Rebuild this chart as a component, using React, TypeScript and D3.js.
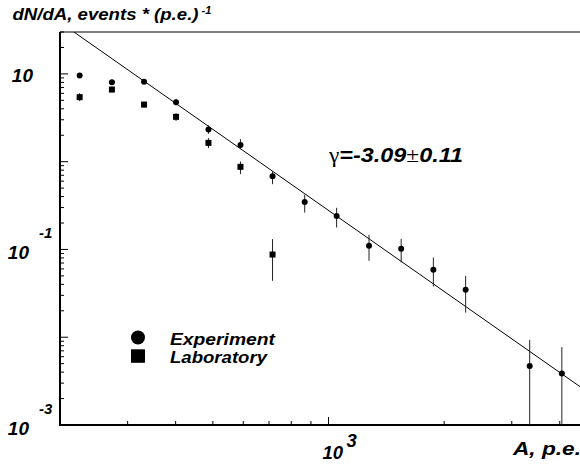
import React from 'react';
import * as d3 from 'd3';

// Bin centres (A, p.e.)
const binA = [225, 273, 331, 401, 487, 590, 715, 867, 1050, 1275, 1546, 1875, 2275, 3340, 4050];
// Experiment
const expY = [9.56, 8.05, 8.11, 4.76, 2.32, 1.553, 0.684, 0.346, 0.24, 0.11, 0.1016, 0.0586, 0.0347, 0.00469, 0.00386];
const expHi = [10.1, 8.5, 8.55, 5.19, 2.59, 1.8, 0.771, 0.419, 0.298, 0.1466, 0.132, 0.0809, 0.05, 0.00934, 0.00771];
const expLo = [9.07, 7.6, 7.7, 4.38, 2.075, 1.388, 0.554, 0.263, 0.1775, 0.0741, 0.071, 0.0378, 0.0191, 0.0001, 0.0001];
// Laboratory
const labA = [225, 273, 331, 401, 487, 590, 715];
const labY = [5.43, 6.63, 4.47, 3.24, 1.637, 0.873, 0.0875];
const labHi = [6.03, 7.17, 4.84, 3.57, 1.853, 1.003, 0.131];
const labLo = [4.89, 6.13, 4.13, 2.91, 1.425, 0.72, 0.0439];
// Power-law fit
const fitA = [217.4, 5000];
const fitY = [30, 0.002];

const xTicks = [200, 300, 400, 500, 600, 700, 800, 900, 1000, 2000, 3000, 4000, 5000];
const xMajor = [1000];
const yDecades = [-3, -2, -1, 0, 1];
const yLabels = [
  { v: 10, exp: '' },
  { v: 0.1, exp: '-1' },
  { v: 0.001, exp: '-3' },
];

const W = 580;
const H = 468;
const L = 60;
const R = 597;
const T = 32;
const B = 425;

const FONT = '"Liberation Sans", Arial, Helvetica, sans-serif';

export default function App() {
  const x = d3.scaleLog().domain([200, 5000]).range([L, R]);
  const y = d3.scaleLog().domain([0.001, 30]).range([B, T]);

  const yTicks: { v: number; major: boolean }[] = [];
  yDecades.forEach((d) => {
    for (let m = 1; m <= 9; m++) {
      const v = m * Math.pow(10, d);
      if (v >= 0.001 && v <= 30) yTicks.push({ v, major: m === 1 });
    }
  });
  yTicks.push({ v: 20, major: false });

  const line = d3
    .line<number>()
    .x((_, i) => x(fitA[i]))
    .y((d) => y(d));

  const txt = { fontFamily: FONT, fontWeight: 'bold' as const, fontStyle: 'italic' as const };

  return (
    <svg
      width={W}
      height={H}
      style={{ position: 'absolute', left: 0, top: 0, background: '#fff' }}
      xmlns="http://www.w3.org/2000/svg"
    >
      <defs>
        <clipPath id="plot">
          <rect x={L} y={T} width={R - L} height={B - T} />
        </clipPath>
      </defs>
      <rect x={0} y={0} width={W} height={H} fill="#fff" />

      {/* frame */}
      <line x1={L} y1={T} x2={R} y2={T} stroke="#000" strokeWidth={1.2} />
      <line x1={L} y1={T} x2={L} y2={B + 1} stroke="#000" strokeWidth={2} />
      <line x1={L - 1} y1={B} x2={R} y2={B} stroke="#000" strokeWidth={2} />

      {/* y ticks */}
      {yTicks.map((t, i) => (
        <line
          key={'yt' + i}
          x1={L}
          x2={L + (t.major ? 8 : 4)}
          y1={y(t.v)}
          y2={y(t.v)}
          stroke="#000"
          strokeWidth={1}
        />
      ))}
      {/* x ticks */}
      {xTicks.map((t, i) => (
        <line
          key={'xt' + i}
          x1={x(t)}
          x2={x(t)}
          y1={B}
          y2={B - (xMajor.includes(t) ? 8 : 4)}
          stroke="#000"
          strokeWidth={1}
        />
      ))}

      <g clipPath="url(#plot)">
        {/* fit */}
        <path d={line(fitY) || ''} fill="none" stroke="#000" strokeWidth={1} />

        {/* error bars */}
        {binA.map((a, i) => (
          <line
            key={'ee' + i}
            x1={x(a)}
            x2={x(a)}
            y1={y(expHi[i])}
            y2={y(expLo[i])}
            stroke="#222"
            strokeWidth={1}
          />
        ))}
        {labA.map((a, i) => (
          <line
            key={'le' + i}
            x1={x(a)}
            x2={x(a)}
            y1={y(labHi[i])}
            y2={y(labLo[i])}
            stroke="#222"
            strokeWidth={1}
          />
        ))}
        {/* markers */}
        {binA.map((a, i) => (
          <circle key={'ec' + i} cx={x(a)} cy={y(expY[i])} r={3} fill="#000" />
        ))}
        {labA.map((a, i) => (
          <rect
            key={'ls' + i}
            x={x(a) - 3}
            y={y(labY[i]) - 3}
            width={6}
            height={6}
            fill="#000"
          />
        ))}
      </g>

      {/* y labels */}
      {yLabels.map((l, i) => (
        <g key={'yl' + i}>
          <text
            x={l.exp ? 29 : 33}
            y={y(l.v) + (l.exp ? 10 : 7.7)}
            textAnchor="end"
            fontSize={19}
            {...txt}
          >
            10
          </text>
          {l.exp && (
            <text x={39} y={y(l.v) - 11.5} fontSize={15} {...txt}>
              {l.exp}
            </text>
          )}
        </g>
      ))}

      {/* x labels */}
      <text x={343} y={459} textAnchor="end" fontSize={18.5} {...txt}>
        10
      </text>
      <text x={346.5} y={446.5} fontSize={18.5} {...txt}>
        3
      </text>
      <text x={513} y={455} fontSize={19} textLength={68} lengthAdjust="spacingAndGlyphs" {...txt}>
        A, p.e.
      </text>

      {/* title */}
      <text x={12.5} y={20} fontSize={16} textLength={186} lengthAdjust="spacingAndGlyphs" {...txt}>
        dN/dA, events * (p.e.)
      </text>
      <text x={201.5} y={13.5} fontSize={11} {...txt}>
        -1
      </text>

      {/* gamma */}
      <text
        x={329}
        y={161.7}
        fontSize={21}
        fontFamily={FONT}
        textLength={134}
        lengthAdjust="spacingAndGlyphs"
      >
        <tspan fontStyle="normal" fontWeight="normal" fontFamily='"Liberation Serif", "DejaVu Serif", serif'>γ</tspan>
        <tspan fontWeight="bold" fontStyle="italic">=-3.09</tspan>
        <tspan fontStyle="normal" fontWeight="normal" fontFamily='"Liberation Serif", "DejaVu Serif", serif'>±</tspan>
        <tspan fontWeight="bold" fontStyle="italic">0.11</tspan>
      </text>

      {/* legend */}
      <circle cx={138} cy={337.5} r={7} fill="#000" />
      <rect x={131} y={349.3} width={14} height={13.5} fill="#000" />
      <text x={170} y={345} fontSize={16.5} textLength={105} lengthAdjust="spacingAndGlyphs" {...txt}>
        Experiment
      </text>
      <text x={170} y={362.7} fontSize={16.5} textLength={97} lengthAdjust="spacingAndGlyphs" {...txt}>
        Laboratory
      </text>
    </svg>
  );
}
